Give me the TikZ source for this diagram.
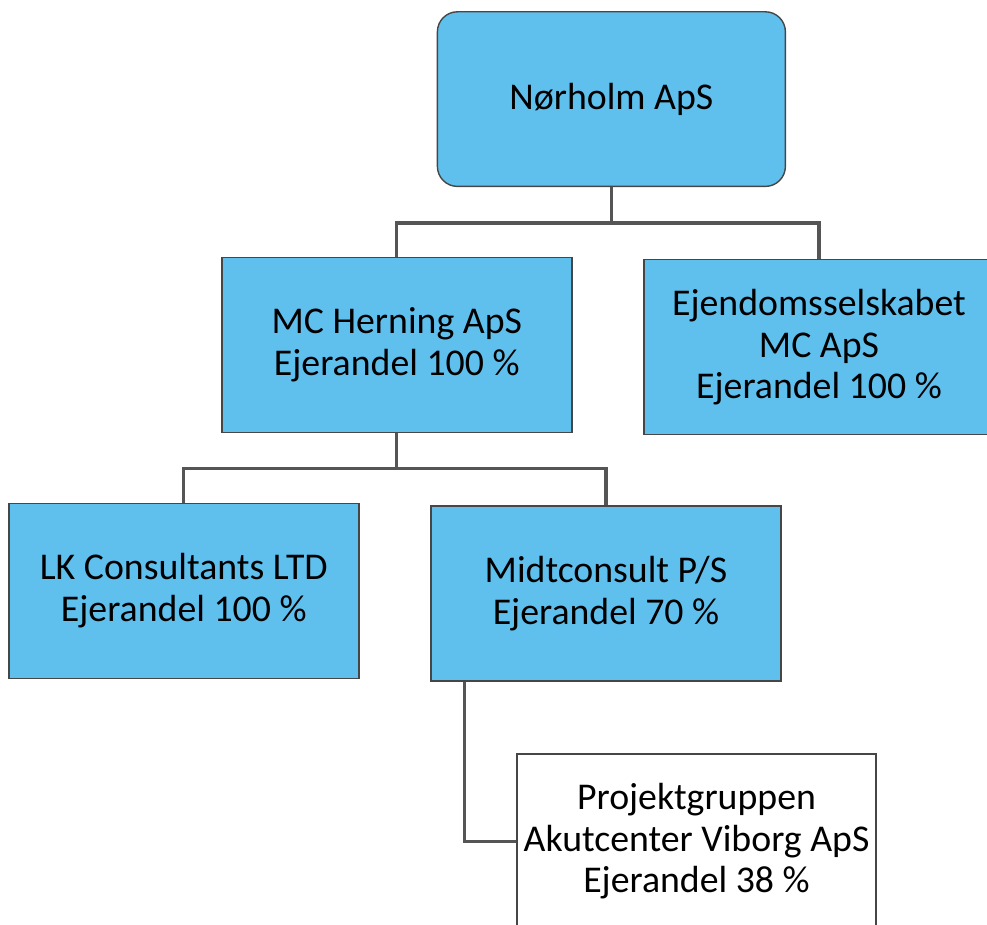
\documentclass[tikz,border=0pt]{standalone}
\usepackage{fontspec}
\setmainfont{Carlito}
\definecolor{boxblue}{RGB}{95,192,238}
\definecolor{boxline}{RGB}{70,70,70}
\definecolor{linkgray}{RGB}{85,85,85}

\begin{document}
\begin{tikzpicture}[x=0.5pt,y=-0.5pt,
  company/.style={draw=boxline,line width=0.7pt,fill=boxblue,
    minimum width=175pt,minimum height=87.5pt,align=center,inner sep=2pt,
    font=\fontsize{18.9}{20.7}\selectfont},
  link/.style={draw=linkgray,line width=1.6pt}]
	\clip (0,0) rectangle (987,925);
	% top company
	\node[company,rounded corners=10pt,minimum width=174pt,minimum height=87.3pt] (norholm) at (611.4,99.1) {Nørholm ApS};
	% first level
	\node[company] (herning) at (396.8,344.8) {MC Herning ApS\\Ejerandel 100 \%};
	\node[company] (ejendom) at (819,347.2) {Ejendomsselskabet\\MC ApS\\Ejerandel 100 \%};
	% second level
	\node[company] (lk) at (183.8,590.8) {LK Consultants LTD\\Ejerandel 100 \%};
	\node[company] (midt) at (606,593.7) {Midtconsult P/S\\Ejerandel 70 \%};
	% associated company
	\node[company,fill=white,minimum width=179.5pt] (projekt) at (696.5,841.5) {Projektgruppen\\Akutcenter Viborg ApS\\Ejerandel 38 \%};
	% links from top
	\draw[link] (norholm.south) -- ++(0,36) -| (herning.north);
	\draw[link] (norholm.south) -- ++(0,36) -| (ejendom.north);
	% links from MC Herning
	\draw[link] (herning.south) -- ++(0,35.5) -| (lk.north);
	\draw[link] (herning.south) -- ++(0,35.5) -| (midt.north);
	% link to Projektgruppen
	\draw[link] ([xshift=17pt]midt.south west) |- (projekt.west);
\end{tikzpicture}
\end{document}
